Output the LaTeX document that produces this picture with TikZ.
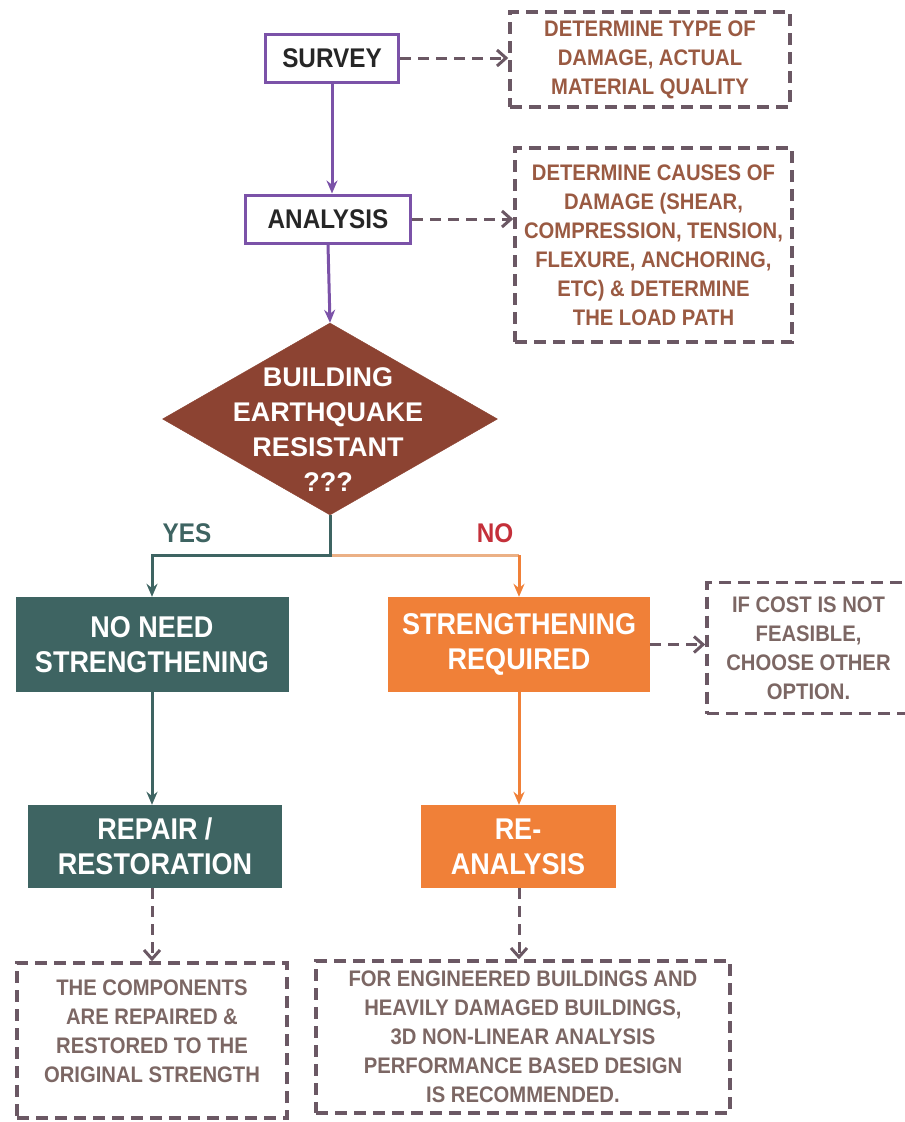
\documentclass[tikz,border=0pt]{standalone}
\usepackage{fontspec}
\setmainfont{Liberation Sans}[FakeStretch=0.9]
\newfontfamily\dfont{Liberation Sans}
\usetikzlibrary{shapes.geometric,arrows.meta}
\definecolor{purpleC}{HTML}{7B52A8}
\definecolor{dashC}{HTML}{6B5864}
\definecolor{noteTop}{HTML}{9A5A42}
\definecolor{noteBot}{HTML}{7C6764}
\definecolor{diamC}{HTML}{8C4332}
\definecolor{tealC}{HTML}{3E6462}
\definecolor{orangeC}{HTML}{F08038}
\definecolor{tanC}{HTML}{EBB085}
\definecolor{noC}{HTML}{C4303A}
\begin{document}
\begin{tikzpicture}[x=1pt,y=-1pt,
  solidbox/.style={draw=purpleC, line width=3pt, fill=white, inner sep=0pt,
    font=\fontsize{27}{32}\selectfont\bfseries, text=black!85},
  notebox/.style={draw=dashC, line width=3.5pt, dash pattern=on 12pt off 7pt,
    align=center, inner sep=0pt, font=\fontsize{22.5}{29}\selectfont\bfseries},
  notetext/.style={align=center, inner sep=0pt, font=\fontsize{22.5}{29}\selectfont\bfseries},
  fillbox/.style={align=center, inner sep=0pt, text=white,
    font=\fontsize{30}{35}\selectfont\bfseries},
  flow/.style={line width=3pt, -{Stealth[length=13pt,width=11pt]}},
  dasharrow/.style={draw=dashC, line width=3pt, dash pattern=on 11pt off 7pt,
    -{Straight Barb[length=9pt,width=16pt,line width=3pt]}},
  lbl/.style={inner sep=0pt, font=\fontsize{27}{30}\selectfont\bfseries}
]
\useasboundingbox (0,0) rectangle (905,1122);

% top boxes
\node[solidbox, minimum width=133pt, minimum height=48pt] (survey) at (332,58) {SURVEY};
\node[solidbox, minimum width=165pt, minimum height=48pt] (analysis) at (328,219) {ANALYSIS};

\node[notebox, text=noteTop, minimum width=280pt, minimum height=95pt] (n1) at (650,59.5)
  {DETERMINE TYPE OF\\DAMAGE, ACTUAL\\MATERIAL QUALITY};
\node[notebox, text=noteTop, minimum width=277pt, minimum height=194pt] (n2) at (653.5,245)
  {DETERMINE CAUSES OF\\DAMAGE (SHEAR,\\COMPRESSION, TENSION,\\FLEXURE, ANCHORING,\\ETC) \& DETERMINE\\THE LOAD PATH};

% diamond
\node[diamond, fill=diamC, draw=diamC, minimum width=335pt, minimum height=192pt, inner sep=0pt] (dec) at (330,419) {};
\node[align=center, inner sep=0pt, text=white, font=\dfont\fontsize{27}{35}\selectfont\bfseries] (dect) at (328,430)
  {BUILDING\\EARTHQUAKE\\RESISTANT\\???};

% decision boxes
\node[fillbox, fill=tealC, minimum width=273pt, minimum height=95pt] (nons) at (152,644.5)
  {NO NEED\\STRENGTHENING};
\node[fillbox, fill=orangeC, minimum width=262pt, minimum height=95pt] (sreq) at (519,644.5)
  {STRENGTHENING\\REQUIRED};
\node[notebox, text=noteBot, minimum width=203pt, minimum height=131pt] (n3) at (808.5,648)
  {IF COST IS NOT\\FEASIBLE,\\CHOOSE OTHER\\OPTION.};

\node[fillbox, fill=tealC, minimum width=254pt, minimum height=83pt] (repair) at (155,846.5)
  {REPAIR /\\RESTORATION};
\node[fillbox, fill=orangeC, minimum width=195pt, minimum height=83pt] (reana) at (518,846.5)
  {RE-\\ANALYSIS};

% bottom notes
\node[notebox, minimum width=270pt, minimum height=155pt] (n4) at (152,1040.5) {};
\node[notetext, text=noteBot] (n4t) at (152,1031)
  {THE COMPONENTS\\ARE REPAIRED \&\\RESTORED TO THE\\ORIGINAL STRENGTH};
\node[notebox, text=noteBot, minimum width=414pt, minimum height=152pt] (n5) at (523,1037)
  {FOR ENGINEERED BUILDINGS AND\\HEAVILY DAMAGED BUILDINGS,\\3D NON-LINEAR ANALYSIS\\PERFORMANCE BASED DESIGN\\IS RECOMMENDED.};

% labels
\node[lbl, text=tealC] (yes) at (187,533) {YES};
\node[lbl, text=noC] (no) at (495,533) {NO};

% connectors
\draw[flow, purpleC] (survey.south) -- (analysis.north -| survey.south);
\draw[flow, purpleC] (analysis.south) -- (dec.north);
\coordinate (split) at (330,555);
\draw[line width=3pt, tanC] (split) -- (sreq.north |- split);
\draw[flow, orangeC] (sreq.north |- split) -- (sreq.north);
\draw[flow, tealC] (dec.south) -- (split) -- (nons.north |- split) -- (nons.north);
\draw[flow, tealC] (nons.south) -- (repair.north -| nons.south);
\draw[flow, orangeC] (sreq.south) -- (reana.north -| sreq.south);

\draw[dasharrow] (survey.east) -- (n1.west |- survey.east);
\draw[dasharrow] (analysis.east) -- (n2.west |- analysis.east);
\draw[dasharrow] (sreq.east) -- (n3.west |- sreq.east);
\draw[dasharrow] (repair.south -| nons.south) -- (n4.north -| nons.south);
\draw[dasharrow] (reana.south -| sreq.south) -- (n5.north -| sreq.south);
\end{tikzpicture}
\end{document}
